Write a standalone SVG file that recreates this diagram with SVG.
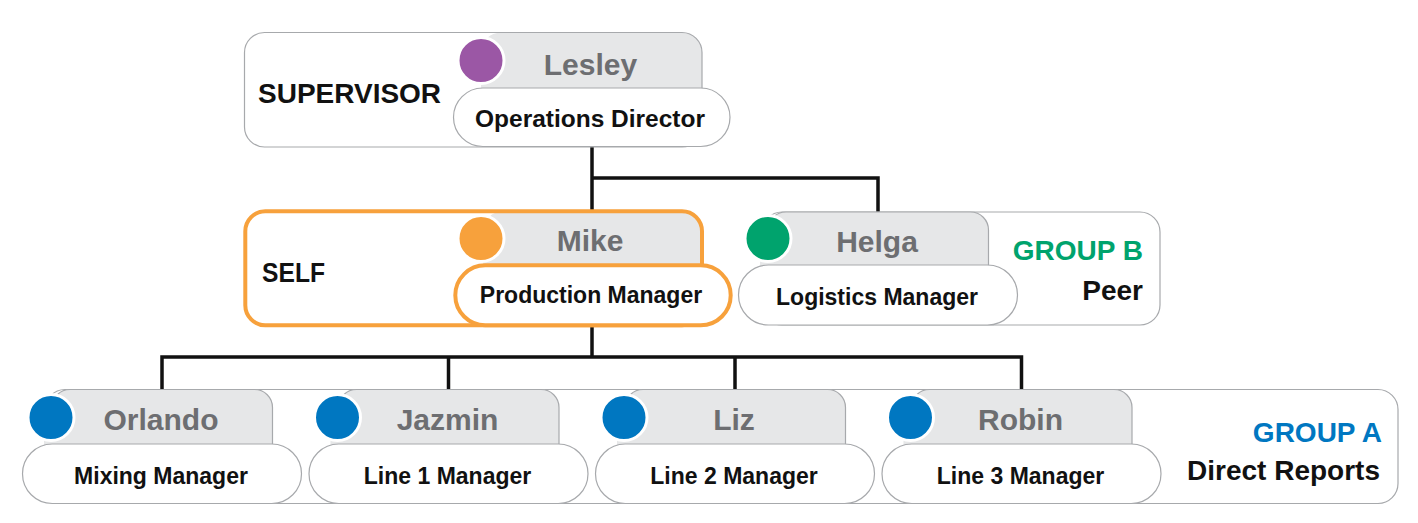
<svg xmlns="http://www.w3.org/2000/svg" width="1418" height="523" viewBox="0 0 1418 523">
<style>
.box{fill:#fff;stroke:#a7a9ac;stroke-width:1.2}
.boxf{fill:#fff;stroke:none}
.boxs{fill:none;stroke:#a7a9ac;stroke-width:1.2}
.tabf{fill:#e6e7e8;stroke:none}
.tabs{fill:none;stroke:#a7a9ac;stroke-width:1.2}
.pill{fill:#fff;stroke:#a7a9ac;stroke-width:1.2}
.self{fill:none;stroke:#f7a13c;stroke-width:4}
.selfpill{fill:#fff;stroke:#f7a13c;stroke-width:4}
.dot{stroke:#fff;stroke-width:3}
.name{font-family:"Liberation Sans",Arial,sans-serif;font-weight:bold;font-size:30px;fill:#6d6e71;text-anchor:middle}
.role{font-family:"Liberation Sans",Arial,sans-serif;font-weight:bold;font-size:23px;fill:#111;text-anchor:middle}
.lbl{font-family:"Liberation Sans",Arial,sans-serif;font-weight:bold;font-size:28px;fill:#111}
.end{text-anchor:end}
.grpA{fill:#0077c1}
.grpB{fill:#00a36d}
.conn{fill:none;stroke:#111;stroke-width:3.5}
</style>

<g id="connectors">
<path class="conn" d="M592,147 V210"/>
<path class="conn" d="M592,178 H878 V212"/>
<path class="conn" d="M592,327 V357"/>
<path class="conn" d="M162,389.5 V357 H1021.5 V389.5"/>
<path class="conn" d="M448.5,357 V389.5"/>
<path class="conn" d="M735,357 V389.5"/>
</g>

<g id="supervisor">
<rect class="boxf" x="244.5" y="32.5" width="457.5" height="114.5" rx="20"/>
<path class="tabf" d="M481,95 V52.5 A20,20 0 0 1 501,32.5 H682 A20,20 0 0 1 702,52.5 V95 Z"/>
<rect class="boxs" x="244.5" y="32.5" width="457.5" height="114.5" rx="20"/>
<rect class="pill" x="453.5" y="88" width="276.5" height="58.5" rx="29.25"/>
<circle class="dot" cx="481" cy="60.5" r="23" fill="#9b57a5"/>
<text class="lbl" x="258" y="103">SUPERVISOR</text>
<text class="name" x="590.5" y="75">Lesley</text>
<text class="role" x="590" y="127" textLength="230" lengthAdjust="spacingAndGlyphs">Operations Director</text>
</g>

<g id="self">
<rect class="boxf" x="245.3" y="211.3" width="456.7" height="114" rx="20"/>
<path class="tabf" d="M483,270 V231.3 A20,20 0 0 1 503,211.3 H682 A20,20 0 0 1 702,231.3 V270 Z"/>
<rect class="self" x="245.3" y="211.3" width="456.7" height="114" rx="20"/>
<rect class="selfpill" x="455.3" y="265.3" width="275.4" height="60" rx="30"/>
<circle class="dot" cx="481" cy="238.5" r="23" fill="#f7a13c"/>
<text class="lbl" x="262" y="282" textLength="63" lengthAdjust="spacingAndGlyphs">SELF</text>
<text class="name" x="590" y="251">Mike</text>
<text class="role" x="591" y="303">Production Manager</text>
</g>

<g id="group-b">
<rect class="box" x="762" y="212" width="398" height="113" rx="20"/>
<text class="lbl end grpB" x="1143" y="260">GROUP B</text>
<text class="lbl end" x="1143" y="300">Peer</text>
</g>

<g id="helga">
<path class="tabf" d="M760,272 V242 L768,230 A18,18 0 0 1 786,212 H970.5 A18,18 0 0 1 988.5,230 V272 Z"/>
<path class="tabs" d="M768,230 A18,18 0 0 1 786,212 H970.5 A18,18 0 0 1 988.5,230 V266"/>
<rect class="pill" x="738.5" y="265" width="279" height="60" rx="30"/>
<circle class="dot" cx="768" cy="238.5" r="23" fill="#00a36d"/>
<text class="name" x="877" y="252">Helga</text>
<text class="role" x="877" y="305">Logistics Manager</text>
</g>

<g id="group-a">
<rect class="box" x="45" y="389.5" width="1353" height="114" rx="20"/>
<text class="lbl end grpA" x="1382" y="441.5">GROUP A</text>
<text class="lbl end" x="1380" y="480">Direct Reports</text>
</g>

<g id="orlando">
<path class="tabf" d="M44,450 V420 L52,407.5 A18,18 0 0 1 70,389.5 H254.5 A18,18 0 0 1 272.5,407.5 V450 Z"/>
<path class="tabs" d="M52,407.5 A18,18 0 0 1 70,389.5 H254.5 A18,18 0 0 1 272.5,407.5 V444"/>
<rect class="pill" x="22.5" y="444" width="279" height="59.5" rx="29.75"/>
<circle class="dot" cx="51" cy="417.5" r="23" fill="#0077c1"/>
<text class="name" x="161" y="430">Orlando</text>
<text class="role" x="161" y="483.5">Mixing Manager</text>
</g>

<g id="jazmin">
<path class="tabf" d="M330.5,450 V420 L338.5,407.5 A18,18 0 0 1 356.5,389.5 H541 A18,18 0 0 1 559,407.5 V450 Z"/>
<path class="tabs" d="M338.5,407.5 A18,18 0 0 1 356.5,389.5 H541 A18,18 0 0 1 559,407.5 V444"/>
<rect class="pill" x="309" y="444" width="279" height="59.5" rx="29.75"/>
<circle class="dot" cx="337.5" cy="417.5" r="23" fill="#0077c1"/>
<text class="name" x="447.5" y="430">Jazmin</text>
<text class="role" x="447.5" y="483.5">Line 1 Manager</text>
</g>

<g id="liz">
<path class="tabf" d="M617,450 V420 L625,407.5 A18,18 0 0 1 643,389.5 H827.5 A18,18 0 0 1 845.5,407.5 V450 Z"/>
<path class="tabs" d="M625,407.5 A18,18 0 0 1 643,389.5 H827.5 A18,18 0 0 1 845.5,407.5 V444"/>
<rect class="pill" x="595.5" y="444" width="279" height="59.5" rx="29.75"/>
<circle class="dot" cx="624" cy="417.5" r="23" fill="#0077c1"/>
<text class="name" x="734" y="430">Liz</text>
<text class="role" x="734" y="483.5">Line 2 Manager</text>
</g>

<g id="robin">
<path class="tabf" d="M903.5,450 V420 L911.5,407.5 A18,18 0 0 1 929.5,389.5 H1114 A18,18 0 0 1 1132,407.5 V450 Z"/>
<path class="tabs" d="M911.5,407.5 A18,18 0 0 1 929.5,389.5 H1114 A18,18 0 0 1 1132,407.5 V444"/>
<rect class="pill" x="882" y="444" width="279" height="59.5" rx="29.75"/>
<circle class="dot" cx="910.5" cy="417.5" r="23" fill="#0077c1"/>
<text class="name" x="1020.5" y="430">Robin</text>
<text class="role" x="1020.5" y="483.5">Line 3 Manager</text>
</g>
</svg>
